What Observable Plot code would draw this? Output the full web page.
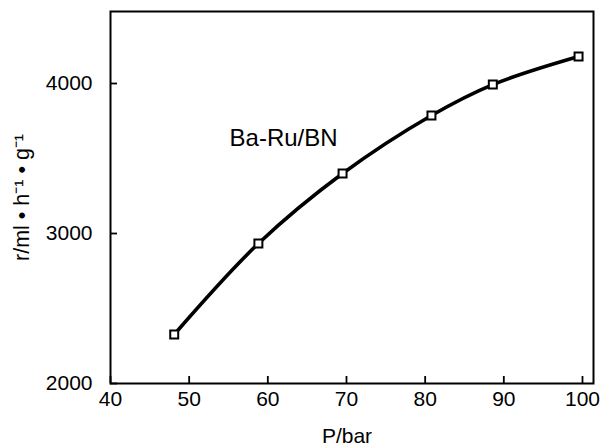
<!DOCTYPE html>
<html>
<head>
<meta charset="utf-8">
<script src="https://cdn.jsdelivr.net/npm/d3@7"></script>
<script src="https://cdn.jsdelivr.net/npm/@observablehq/plot@0.6"></script>
<style>
  html, body { margin: 0; padding: 0; background: #fff; }
</style>
</head>
<body>
<div id="chart"></div>
<script>
// Data
const pressure = [48.1, 58.8, 69.5, 80.8, 88.6, 99.5];
const rate = [2327, 2933, 3400, 3787, 3993, 4180];
const xTicks = [40, 50, 60, 70, 80, 90, 100];
const yTicks = [2000, 3000, 4000];
const seriesLabel = ["Ba-Ru/BN"];
const seriesLabelPos = [62, 3633];
const xLabel = "P/bar";
const yLabel = "r/ml \u2022 h\u207B\u00B9 \u2022 g\u207B\u00B9";

const xDomain = [40, 101.4];
const yDomain = [2000, 4480];
const data = pressure.map((p, i) => ({p, r: rate[i]}));
const font = "'Liberation Sans', Arial, Helvetica, sans-serif";

const W = 601, H = 448, mL = 110, mR = 8, mT = 11, mB = 65;
const tickLen = 7;
const yTickEnd = yDomain[0] + (yDomain[1] - yDomain[0]) * tickLen / (H - mT - mB);
const xTickEnd = xDomain[0] + (xDomain[1] - xDomain[0]) * tickLen / (W - mL - mR);

const chart = Plot.plot({
  width: W,
  height: H,
  marginLeft: mL,
  marginRight: mR,
  marginTop: mT,
  marginBottom: mB,
  style: {fontFamily: font, fontSize: "21px", color: "black", background: "white"},
  x: {domain: xDomain},
  y: {domain: yDomain},
  marks: [
    Plot.axisX(xTicks, {tickSize: 0, tickPadding: 8, fontSize: 21, tickFormat: "d", label: null}),
    Plot.axisY(yTicks, {tickSize: 0, tickPadding: 18, fontSize: 21, tickFormat: "d", label: null}),
    Plot.ruleX(xTicks, {x: d => d, y1: yDomain[0], y2: yTickEnd, stroke: "black", strokeWidth: 1.8}),
    Plot.ruleY(yTicks, {y: d => d, x1: xDomain[0], x2: xTickEnd, stroke: "black", strokeWidth: 1.8}),
    Plot.frame({stroke: "black", strokeWidth: 2}),
    Plot.line(data, {x: "p", y: "r", curve: "catmull-rom", stroke: "black", strokeWidth: 3.6}),
    Plot.dot(data, {x: "p", y: "r", symbol: "square", r: 4.5, fill: "white", stroke: "black", strokeWidth: 2}),
    Plot.text(seriesLabel, {x: () => seriesLabelPos[0], y: () => seriesLabelPos[1], text: d => d, fontSize: 24, fill: "black"}),
    Plot.text([xLabel], {frameAnchor: "bottom", textAnchor: "middle", lineAnchor: "middle", dx: -5, dy: 53, text: d => d, fontSize: 21, fill: "black"}),
    Plot.text([yLabel], {frameAnchor: "left", textAnchor: "middle", lineAnchor: "middle", dx: -88, rotate: -90, text: d => d, fontSize: 21.5, fill: "black"})
  ]
});
document.getElementById("chart").appendChild(chart);
</script>
</body>
</html>
